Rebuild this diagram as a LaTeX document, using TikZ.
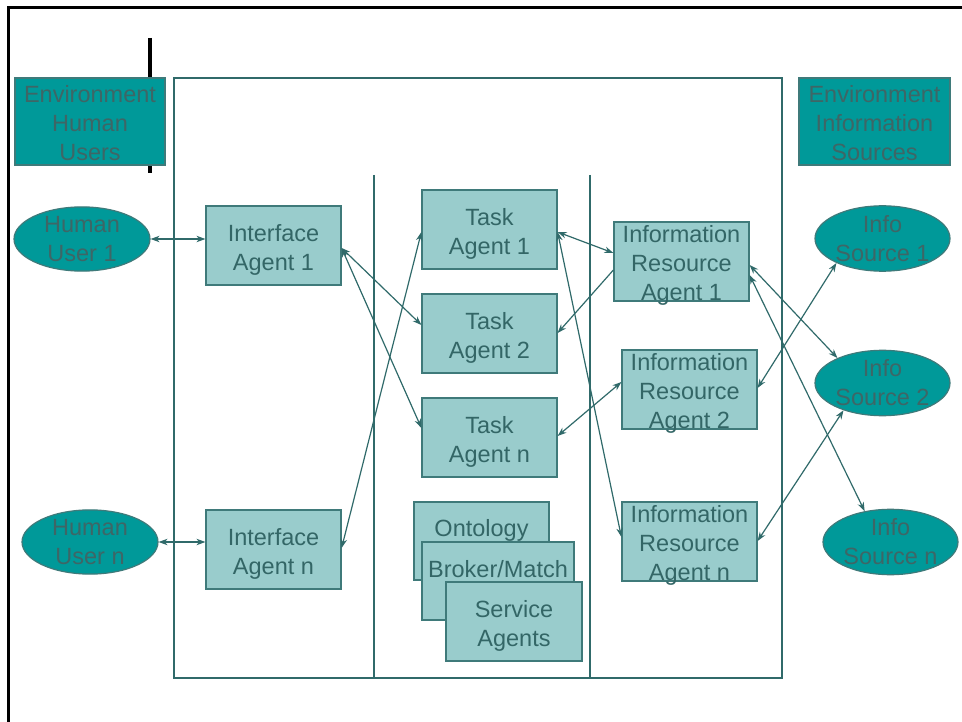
\documentclass[tikz,border=0pt]{standalone}
\usepackage{fontspec}
\setmainfont{Liberation Sans}
\usetikzlibrary{shapes.geometric,arrows.meta}
\definecolor{agentfill}{HTML}{99CCCC}
\definecolor{agentline}{HTML}{3F7A7A}
\definecolor{agenttext}{HTML}{336666}
\definecolor{envfill}{HTML}{009999}
\definecolor{envtext}{HTML}{3E6666}
\definecolor{wire}{HTML}{306A6A}
% tall first-line strut so box labels sit a little lower
\newcommand{\tallstrut}{\rule{0pt}{25pt}}
\newcommand{\midstrut}{\rule{0pt}{21pt}}
\tikzset{
  lbl/.style={font=\fontsize{23.5}{29}\selectfont, align=center, inner sep=0pt},
  agent/.style={lbl, rectangle, fill=agentfill, draw=agentline, line width=1.2pt,
    text=agenttext, minimum width=135pt, minimum height=79pt},
  threeline/.style={agent, text height=78pt, text depth=0pt},
  stacked/.style={lbl, rectangle, fill=agentfill, draw=agentline, line width=1.2pt,
    text=agenttext, minimum height=78pt, text height=17pt},
  envbox/.style={lbl, rectangle, fill=envfill, draw=agentline, line width=1.2pt,
    text=envtext},
  envoval/.style={lbl, ellipse, fill=envfill, draw=agentline, line width=1.2pt,
    text=envtext, minimum width=136pt, minimum height=62pt},
  frame/.style={draw=wire, line width=1.2pt},
  link/.style={draw=wire, line width=1.2pt,
    {Stealth[length=9pt,width=6.5pt]}-{Stealth[length=9pt,width=6.5pt]}},
  onelink/.style={draw=wire, line width=1.2pt, -{Stealth[length=9pt,width=6.5pt]}},
}
\begin{document}
\begin{tikzpicture}[x=1pt,y=-1pt]
\useasboundingbox[fill=white] (0,0) rectangle (962,722);

% slide frame and marker bar
\draw[line width=3pt] (962,8) -- (8,8) -- (8,722);
\draw[line width=3.5pt] (150,38) -- (150,173);

% system boundary with its three columns
\draw[frame] (174,78) rectangle (782,678);
\draw[frame] (374,175) -- (374,678);
\draw[frame] (590,175) -- (590,678);

% environment labels
\node[envbox, minimum width=150pt, minimum height=87pt] (envH) at (90,121.5) {\midstrut Environment\\Human\\Users};
\node[envbox, minimum width=151pt, minimum height=87pt] (envI) at (874.5,121.5) {\midstrut Environment\\Information\\Sources};

% human users
\node[envoval] (hu1) at (82,239) {Human\\User 1};
\node[envoval] (hun) at (90,542) {Human\\User n};

% interface agents
\node[agent] (ia1) at (273.5,245.5) {\tallstrut Interface\\Agent 1};
\node[agent] (ian) at (273.5,549.5) {\tallstrut Interface\\Agent n};

% task agents
\node[agent] (ta1) at (489.5,229.5) {\tallstrut Task\\Agent 1};
\node[agent] (ta2) at (489.5,333.5) {\tallstrut Task\\Agent 2};
\node[agent] (tan) at (489.5,437.5) {\tallstrut Task\\Agent n};

% middle agents, stacked
\node[stacked, minimum width=135pt, text depth=26pt] (ont) at (481.5,541) {Ontology};
\node[stacked, minimum width=152pt, text depth=24pt] (brk) at (498,581) {Broker/Match};
\node[agent, minimum width=136pt] (svc) at (514,621.5) {\tallstrut Service\\Agents};

% information resource agents
\node[threeline] (ira1) at (681.5,261.5) {\tallstrut Information\\Resource\\Agent 1};
\node[threeline] (ira2) at (689.5,389.5) {\tallstrut Information\\Resource\\Agent 2};
\node[threeline] (iran) at (689.5,541.5) {\tallstrut Information\\Resource\\Agent n};

% information sources
\node[envoval, minimum width=135pt, minimum height=63pt] (is1) at (882.5,238.5) {Info\\Source 1};
\node[envoval, minimum width=135pt] (is2) at (882.5,383) {Info\\Source 2};
\node[envoval, minimum width=135pt] (isn) at (890.5,542) {Info\\Source n};

% users to interface agents
\draw[link] (hu1.east) -- ([yshift=6.5pt]ia1.west);
\draw[link] (hun.east) -- ([yshift=7.5pt]ian.west);

% interface agents to task agents
\draw[link] ([yshift=-2.5pt]ia1.east) -- ([yshift=8.5pt]ta2.west);
\draw[link] ([yshift=-2.5pt]ia1.east) -- ([yshift=9.5pt]tan.west);
\draw[link] ([yshift=1.5pt]ian.east) -- ([yshift=-2.5pt]ta1.west);

% task agents to information resource agents
\draw[link] ([yshift=-2.5pt]ta1.east) -- ([yshift=8.5pt]ira1.west);
\draw[onelink] ([yshift=-8.5pt]ira1.west) -- ([yshift=0.5pt]ta2.east);
\draw[link] ([yshift=1.5pt]tan.east) -- ([yshift=7.5pt]ira2.west);
\draw[link] ([yshift=-2.5pt]ta1.east) -- ([yshift=4.5pt]iran.west);

% information resource agents to sources
\draw[link] ([yshift=-3.5pt]ira1.east) -- (is2.151);
\draw[link] ([yshift=-13.5pt]ira1.east) -- (isn.130);
\draw[link] ([yshift=1.5pt]ira2.east) -- (is1.208);
\draw[link] ([yshift=0.5pt]iran.east) -- (is2.215);
\end{tikzpicture}
\end{document}
